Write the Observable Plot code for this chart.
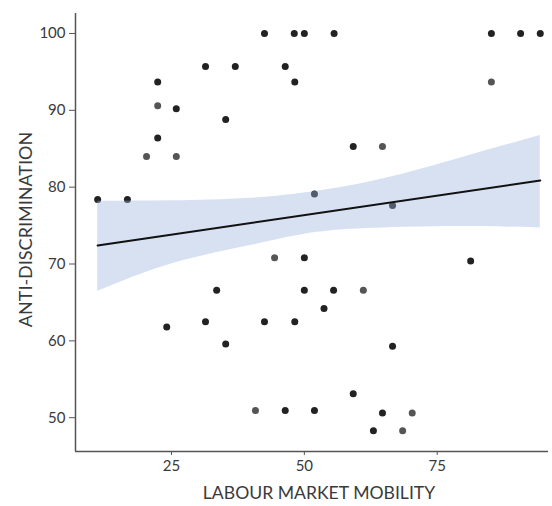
<!DOCTYPE html>
<html><head><meta charset="utf-8">
<script src="https://cdn.jsdelivr.net/npm/d3@7"></script>
<script src="https://cdn.jsdelivr.net/npm/@observablehq/plot@0.6"></script>
<style>body{margin:0;background:#fff;font-family:Lato,"Open Sans",sans-serif}</style>
</head><body><div id="chart"></div>
<script>
// observations
const mobility = [11.1,16.7,20.3,22.4,22.4,22.4,25.9,25.9,24.1,31.4,31.4,33.5,35.2,35.2,37.0,42.5,48.1,50.0,55.6,46.4,48.2,59.2,64.7,51.9,66.6,85.2,90.7,94.4,85.2,44.4,50.0,50.0,55.5,61.1,53.7,42.5,48.2,66.6,59.2,40.8,46.4,51.9,64.7,63.0,81.3,70.3,68.5];
const antiDiscrimination = [78.4,78.4,84.0,93.7,90.6,86.4,90.2,84.0,61.8,95.7,62.5,66.6,59.6,88.8,95.7,100,100,100,100,95.7,93.7,85.3,85.3,79.1,77.6,100,100,100,93.7,70.8,70.8,66.6,66.6,66.6,64.2,62.5,62.5,59.3,53.1,50.95,50.95,50.95,50.6,48.3,70.4,50.6,48.3];
const overlap = [2,2,1,2,1,2,2,1,2,2,2,2,2,2,2,2,2,2,2,2,2,2,1,2,2,2,2,2,1,1,2,2,2,1,2,2,2,2,2,1,2,2,2,2,2,1,1];
// fitted linear trend and its 95% confidence band
const fitX = [11.1, 94.4];
const fitY = [72.4, 80.86];
const bandX = [11.1, 25, 39.8, 52.4, 64.9, 79.9, 94.4];
const bandLow = [66.45, 70.01, 72.40, 74.13, 74.70, 74.87, 74.70];
const bandHigh = [78.16, 78.22, 78.55, 79.47, 81.08, 83.90, 86.72];
const xTicks = [25, 50, 75];
const yTicks = [50, 60, 70, 80, 90, 100];
const xLabel = "LABOUR MARKET MOBILITY";
const yLabel = "ANTI-DISCRIMINATION";

const data = mobility.map((x, i) => ({x, y: antiDiscrimination[i], n: overlap[i]}));
const band = bandX.map((x, i) => ({x, lo: bandLow[i], hi: bandHigh[i]}));
const fit = fitX.map((x, i) => ({x, y: fitY[i]}));

const chart = Plot.plot({
  width: 552, height: 506,
  marginLeft: 75, marginRight: 4, marginTop: 13, marginBottom: 55,
  style: {fontFamily: "Lato, sans-serif", fontSize: "15px", color: "#3a3a3a", background: "#fff"},
  x: {domain: [6.93, 95.95]},
  y: {domain: [45.6, 102.6]},
  marks: [
    Plot.dot(data, {x: "x", y: "y", r: 3.5, fill: d => d.n > 1 ? "#222" : "#555", stroke: "none"}),
    Plot.areaY(band, {x: "x", y1: "lo", y2: "hi", fill: "#9bb4dc", fillOpacity: 0.4, curve: "natural"}),
    Plot.line(fit, {x: "x", y: "y", stroke: "#111", strokeWidth: 2}),
    Plot.axisX({ticks: xTicks, tickSize: 4, tickPadding: 5, stroke: "#555", label: null, fontSize: 15}),
    Plot.axisY({ticks: yTicks, tickSize: 6, tickPadding: 4, stroke: "#555", label: null, fontSize: 15}),
    Plot.ruleX([6.93], {stroke: "#555", strokeWidth: 1.5}),
    Plot.ruleY([45.6], {stroke: "#555", strokeWidth: 1.5}),
    Plot.text([xLabel], {frameAnchor: "bottom", dy: 42, dx: 7, lineAnchor: "middle", textAnchor: "middle", fontSize: 17.6, fill: "#3a3a3a"}),
    Plot.text([yLabel], {frameAnchor: "left", dx: -49, dy: -3, rotate: -90, lineAnchor: "middle", textAnchor: "middle", fontSize: 18, fill: "#3a3a3a"})
  ]
});
document.getElementById("chart").appendChild(chart);
</script></body></html>
